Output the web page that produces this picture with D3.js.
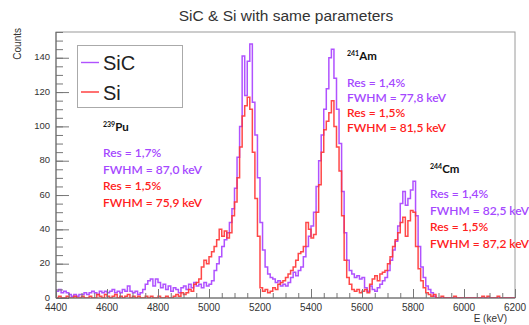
<!DOCTYPE html>
<html>
<head>
<meta charset="utf-8">
<script src="https://cdn.jsdelivr.net/npm/d3@7"></script>
<style>
  body { margin: 0; background: #fff; }
  svg { display: block; }
</style>
</head>
<body>
<div id="wrap"></div>
<script>
// histogram bins, 10 keV wide, from 4400 to 6200 keV
var binEdges = d3.range(4400, 6200, 10);

var sicCounts = [
  4,5,3,4,3,2,1,2,1,2,       // 4400
  2,3,2,3,4,3,2,4,3,4,       // 4500
  3,4,5,3,4,3,5,4,7,4,       // 4600
  3,4,2,3,5,8,10,11,7,11,    // 4700
  9,6,8,5,7,4,6,5,3,6,       // 4800
  7,5,8,6,9,7,8,6,9,7,       // 4900
  8,10,16,20,24,30,34,38,44,52,          // 5000
  64,82,100,141,118,138,148,114,95,70,   // 5100
  44,28,18,14,12,11,9,10,7,8,            // 5200
  7,9,12,15,13,16,18,24,30,36,           // 5300
  42,50,65,80,95,110,122,140,145,128,    // 5400
  110,90,62,38,22,16,14,12,13,11,        // 5500
  12,6,4,7,5,4,6,8,10,12,                // 5600
  16,22,28,33,42,55,62,54,58,63,         // 5700
  68,48,30,18,12,7,5,3,1,0,              // 5800
  0,0,0,0,0,0,0,0,0,0,       // 5900
  0,0,0,0,0,0,0,0,0,0,       // 6000
  0,0,0,0,0,0,0,0,0,0        // 6100
];

var siCounts = [
  0,1,0,0,1,0,0,1,0,0,       // 4400
  1,0,0,1,0,0,2,1,0,2,       // 4500
  1,0,1,2,0,1,0,1,2,0,       // 4600
  1,0,1,0,0,1,0,1,0,0,       // 4700
  1,0,0,1,0,0,1,2,1,3,       // 4800
  2,3,5,4,8,9,11,18,22,20,   // 4900
  24,27,30,34,40,36,39,35,38,48,         // 5000
  56,70,88,106,112,117,110,85,58,36,     // 5100
  6,4,5,3,4,6,5,8,9,10,                  // 5200
  12,14,16,18,22,26,27,30,44,40,         // 5300
  35,37,50,66,85,98,103,108,115,100,     // 5400
  88,74,48,22,12,8,5,4,5,3,              // 5500
  4,5,3,8,11,13,10,14,15,16,             // 5600
  20,24,30,34,38,44,47,36,45,51,         // 5700
  50,30,17,10,6,3,2,1,2,0,               // 5800
  0,1,0,0,0,0,1,0,0,0,       // 5900
  0,0,0,0,0,0,0,1,0,1,       // 6000
  0,0,0,1,0,0,0,0,0,0        // 6100
];

var seriesNames = ['SiC', 'Si'];
var xTickValues = [4400, 4600, 4800, 5000, 5200, 5400, 5600, 5800, 6000, 6200];
var yTickValues = [0, 20, 40, 60, 80, 100, 120, 140];

var isoMass = ['239', '241', '244'];
var isoName = ['Pu', 'Am', 'Cm'];
var sicRes = ['Res = 1,7%', 'Res = 1,4%', 'Res = 1,4%'];
var sicFwhm = ['FWHM = 87,0 keV', 'FWHM = 77,8 keV', 'FWHM = 82,5 keV'];
var siRes = ['Res = 1,5%', 'Res = 1,5%', 'Res = 1,5%'];
var siFwhm = ['FWHM = 75,9 keV', 'FWHM = 81,5 keV', 'FWHM = 87,2 keV'];

var W = 529, H = 325;
var plot = {left: 56, right: 515, top: 32, bottom: 298};
var colSiC = '#b052ff', colSi = '#ff3434';
var txtSiC = '#a547ff', txtSi = '#ff2020';

var svg = d3.select('#wrap').append('svg')
  .attr('width', W)
  .attr('height', H);

var x = d3.scaleLinear().domain([4400, 6200]).range([plot.left, plot.right]);
var y = d3.scaleLinear().domain([0, 155]).range([plot.bottom, plot.top]);

svg.append('clipPath').attr('id', 'clip')
  .append('rect')
  .attr('x', plot.left).attr('y', plot.top)
  .attr('width', plot.right - plot.left).attr('height', plot.bottom - plot.top);

// frame
svg.append('rect')
  .attr('x', plot.left).attr('y', plot.top)
  .attr('width', plot.right - plot.left).attr('height', plot.bottom - plot.top)
  .attr('fill', 'none').attr('stroke', '#9a9a9a').attr('stroke-width', 1);

// histograms as steps
function histPoints(counts) {
  var pts = counts.map(function(c, i){ return [binEdges[i], c]; });
  pts.push([6200, counts[counts.length - 1]]);
  return pts;
}
var line = d3.line()
  .x(function(d){ return x(d[0]); })
  .y(function(d){ return y(d[1]); })
  .curve(d3.curveStepAfter);

var g = svg.append('g').attr('clip-path', 'url(#clip)');
g.append('path').datum(histPoints(sicCounts))
  .attr('d', line).attr('fill', 'none')
  .attr('stroke', colSiC).attr('stroke-width', 1.5);
g.append('path').datum(histPoints(siCounts))
  .attr('d', line).attr('fill', 'none')
  .attr('stroke', colSi).attr('stroke-width', 1.5).attr('stroke-opacity', 0.9);

// axes, ROOT style with ticks pointing in
var yAxis = d3.axisRight(y).tickValues(yTickValues).tickSize(13).tickFormat('');
var yMinor = d3.axisRight(y).tickValues(d3.range(0, 156, 5)).tickSize(7).tickFormat('');
var xAxis = d3.axisTop(x).tickValues(xTickValues).tickSize(9).tickFormat('');
var xMinor = d3.axisTop(x).tickValues(d3.range(4400, 6201, 50)).tickSize(5).tickFormat('');

[yMinor, yAxis].forEach(function(ax){
  svg.append('g').attr('transform', 'translate(' + plot.left + ',0)').call(ax)
    .call(function(s){ s.select('.domain').remove(); s.selectAll('line').attr('stroke', '#777'); });
});
[xMinor, xAxis].forEach(function(ax){
  svg.append('g').attr('transform', 'translate(0,' + plot.bottom + ')').call(ax)
    .call(function(s){ s.select('.domain').remove(); s.selectAll('line').attr('stroke', '#777'); });
});
svg.append('line').attr('x1', plot.left).attr('x2', plot.left)
  .attr('y1', plot.top).attr('y2', plot.bottom).attr('stroke', '#666');
svg.append('line').attr('x1', plot.left).attr('x2', plot.right)
  .attr('y1', plot.bottom).attr('y2', plot.bottom).attr('stroke', '#666');

svg.selectAll('.ylab').data(yTickValues).enter().append('text')
  .attr('x', plot.left - 6).attr('y', function(d){ return y(d) + 2.5; })
  .attr('text-anchor', 'end')
  .style('font', '9.5px "Liberation Sans", Arial, sans-serif').attr('fill', '#333')
  .text(function(d){ return d; });

svg.selectAll('.xlab').data(xTickValues).enter().append('text')
  .attr('x', function(d){ return x(d); }).attr('y', plot.bottom + 13)
  .attr('text-anchor', 'middle')
  .style('font', '10px "Liberation Sans", Arial, sans-serif').attr('fill', '#333')
  .text(function(d){ return d; });

svg.append('text')
  .attr('x', 507).attr('y', 322)
  .attr('text-anchor', 'end')
  .style('font', '10px "Liberation Sans", Arial, sans-serif').attr('fill', '#333')
  .text('E (keV)');

svg.append('text')
  .attr('transform', 'translate(21,28) rotate(-90)')
  .attr('text-anchor', 'end')
  .style('font', '10px "Liberation Sans", Arial, sans-serif').attr('fill', '#333')
  .text('Counts');

svg.append('text')
  .attr('x', 286).attr('y', 21)
  .attr('text-anchor', 'middle')
  .style('font', '15.5px "Liberation Sans", Arial, sans-serif').attr('fill', '#333')
  .text('SiC & Si with same parameters');

// legend
var leg = svg.append('g');
leg.append('rect').attr('x', 77.5).attr('y', 45.5).attr('width', 105).attr('height', 62)
  .attr('fill', '#fff').attr('stroke', '#aaa');
[colSiC, colSi].forEach(function(c, i){
  var ly = 62.5 + i * 29.5;
  leg.append('line').attr('x1', 81).attr('x2', 99).attr('y1', ly).attr('y2', ly)
    .attr('stroke', c).attr('stroke-width', 1.4);
  leg.append('text').attr('x', 103).attr('y', ly + 7.5)
    .style('font', '20px "Liberation Sans", Arial, sans-serif').attr('fill', '#222')
    .text(seriesNames[i]);
});

// peak annotations: left x, header baseline, first line baseline, line step
var notePos = [[103, 131, 157, 16.5], [347, 60, 87, 15], [430, 173, 198, 16.7]];
var noteFont = '"Lato", "Open Sans", sans-serif';
isoName.forEach(function(name, i){
  var p = notePos[i];
  var t = svg.append('text').attr('x', p[0]).attr('y', p[1])
    .style('font-family', noteFont).style('font-weight', 'bold').attr('fill', '#111');
  t.append('tspan').style('font-size', '7px').attr('dy', -4).text(isoMass[i]);
  t.append('tspan').style('font-size', '11.5px').attr('dy', 4).text(name);
  var lines = [[sicRes[i], txtSiC], [sicFwhm[i], txtSiC], [siRes[i], txtSi], [siFwhm[i], txtSi]];
  lines.forEach(function(l, j){
    svg.append('text').attr('x', p[0]).attr('y', p[2] + j * p[3])
      .style('font-family', noteFont).style('font-size', '12px').style('font-weight', 600)
      .attr('fill', l[1]).text(l[0]);
  });
});
</script>
</body>
</html>
